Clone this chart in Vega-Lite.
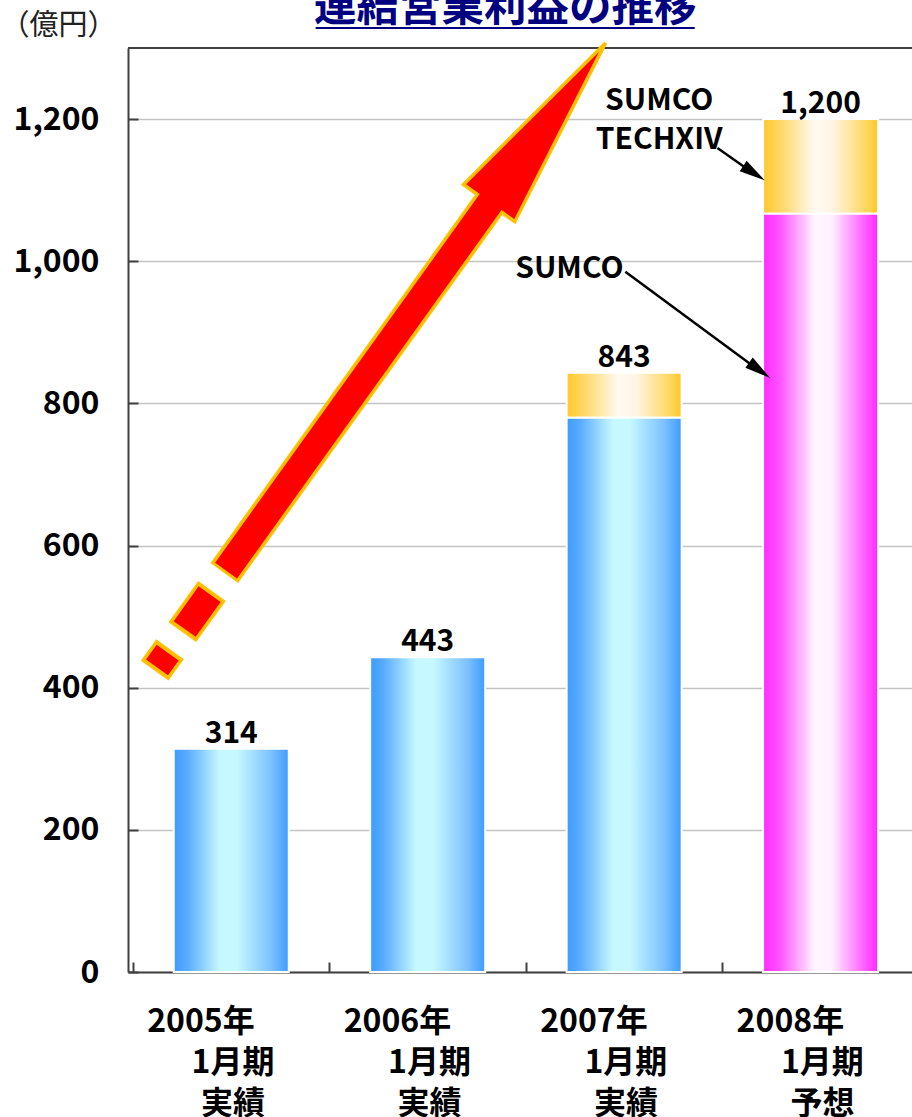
{
  "$schema": "https://vega.github.io/schema/vega-lite/v6.json",
  "autosize": {"type": "none"},
  "padding": {"left": 128, "top": 48, "right": 0, "bottom": 145},
  "width": 784,
  "height": 924,
  "background": "white",
  "config": {"font": "Noto Sans CJK JP", "view": {"stroke": null}},
  "datasets": {
    "profit": [
      {"year": 2005, "company": "SUMCO", "value": 314},
      {"year": 2006, "company": "SUMCO", "value": 443},
      {"year": 2007, "company": "SUMCO", "value": 780},
      {"year": 2007, "company": "SUMCO TECHXIV", "value": 63},
      {"year": 2008, "company": "SUMCO", "value": 1067},
      {"year": 2008, "company": "SUMCO TECHXIV", "value": 133}
    ],
    "arrowOutline": [
      {"x0": 2004.9648, "y0": 561.37, "x1": 2006.3126, "y1": 1080.24},
      {"x0": 2004.7513, "y0": 478.07, "x1": 2004.9020, "y1": 536.04},
      {"x0": 2004.6101, "y0": 423.91, "x1": 2004.6884, "y1": 454.02}
    ],
    "arrowFill": [
      {"x0": 2004.9739, "y0": 564.74, "x1": 2006.3271, "y1": 1085.87},
      {"x0": 2004.7633, "y0": 482.58, "x1": 2004.8899, "y1": 531.54},
      {"x0": 2004.6221, "y0": 428.55, "x1": 2004.6764, "y1": 449.37}
    ],
    "arrowHead": [{"x": 2006.609, "y": 1194.48}],
    "pointerLines": [
      {"x0": 2007.4749, "y0": 1159.31, "x1": 2007.6156, "y1": 1131.88},
      {"x0": 2007.0060, "y0": 985.27, "x1": 2007.6457, "y1": 854.71}
    ],
    "pointerHead1": [{"x": 2007.6608, "y": 1123.86}],
    "pointerHead2": [{"x": 2007.6894, "y": 846.55}],
    "notes": [
      {"x": 2007.1784, "y": 1212.77, "label": "SUMCO\nTECHXIV"},
      {"x": 2006.7211, "y": 976.41, "label": "SUMCO"}
    ],
    "heading": [{"x": 2006.3945, "x0": 2005.4296, "x1": 2007.3593, "y": 1337.3, "yLine": 1328.1, "label": "連結営業利益の推移"}]
  },
  "layer": [
    {
      "data": {"name": "profit"},
      "transform": [
        {"stack": "value", "groupby": ["year"], "sort": [{"field": "company", "order": "ascending"}], "as": ["v0", "v1"]},
        {"filter": "datum.company == 'SUMCO' && datum.year < 2008"}
      ],
      "mark": {"type": "bar", "orient": "vertical", "width": 115, "stroke": "white", "strokeWidth": 2,
        "fill": {"gradient": "linear", "x1": 0, "y1": 0, "x2": 1, "y2": 0, "stops": [
          {"offset": 0, "color": "#3d9bff"}, {"offset": 0.12, "color": "#5aacff"}, {"offset": 0.4, "color": "#c6f8ff"},
          {"offset": 0.55, "color": "#c6f8ff"}, {"offset": 0.85, "color": "#7cc0ff"}, {"offset": 1, "color": "#3d9bff"}]}},
      "encoding": {
        "x": {"field": "year", "type": "quantitative", "scale": {"domain": [2004.5, 2008.4397], "nice": false, "zero": false},
          "axis": {"values": [2004.5, 2005.5, 2006.5, 2007.5],
            "labelExpr": "[toString(datum.value + 0.5) + '年\u3000\u3000\u200b', '1月期', datum.value > 2007 ? '予想' : '実績']",
            "labelOffset": 99.5, "tickSize": -10, "tickColor": "#404040", "tickWidth": 2, "domainColor": "#404040", "domainWidth": 2,
            "grid": false, "labelFontSize": 32, "labelFontWeight": "bold", "labelColor": "#000000", "labelLineHeight": 41,
            "labelPadding": 44, "labelFlush": false, "labelOverlap": false, "labelBound": false, "title": null,
            "labelAlign": "center", "labelBaseline": "top"}},
        "y": {"field": "v1", "type": "quantitative", "scale": {"domain": [0, 1300], "nice": false},
          "axis": {"values": [0, 200, 400, 600, 800, 1000, 1200], "labelExpr": "format(datum.value, ',')", "tickSize": -10, "tickColor": "#404040", "tickWidth": 2,
            "domainColor": "#404040", "domainWidth": 2, "grid": true, "gridColor": "#c4c4c4", "gridWidth": 1.5,
            "labelFontSize": 32, "labelFontWeight": "bold", "labelColor": "#000000", "labelPadding": 39,
            "title": "（億円）", "titleAngle": 0, "titleX": -128, "titleY": -37, "titleAlign": "left", "titleBaseline": "top",
            "titleFontSize": 29, "titleFontWeight": "normal", "titleColor": "#222222"}},
        "y2": {"field": "v0"}
      }
    },
    {
      "data": {"name": "profit"},
      "transform": [
        {"stack": "value", "groupby": ["year"], "sort": [{"field": "company", "order": "ascending"}], "as": ["v0", "v1"]},
        {"filter": "datum.company == 'SUMCO' && datum.year == 2008"}
      ],
      "mark": {"type": "bar", "orient": "vertical", "width": 115, "stroke": "white", "strokeWidth": 2,
        "fill": {"gradient": "linear", "x1": 0, "y1": 0, "x2": 1, "y2": 0, "stops": [
          {"offset": 0, "color": "#ff2aff"}, {"offset": 0.15, "color": "#ff55ff"}, {"offset": 0.45, "color": "#fff6ff"},
          {"offset": 0.6, "color": "#fff0ff"}, {"offset": 0.9, "color": "#ff55ff"}, {"offset": 1, "color": "#ff2aff"}]}},
      "encoding": {
        "x": {"field": "year", "type": "quantitative"},
        "y": {"field": "v1", "type": "quantitative"},
        "y2": {"field": "v0"}
      }
    },
    {
      "data": {"name": "profit"},
      "transform": [
        {"stack": "value", "groupby": ["year"], "sort": [{"field": "company", "order": "ascending"}], "as": ["v0", "v1"]},
        {"filter": "datum.company == 'SUMCO TECHXIV'"}
      ],
      "mark": {"type": "bar", "orient": "vertical", "width": 115, "stroke": "white", "strokeWidth": 2,
        "fill": {"gradient": "linear", "x1": 0, "y1": 0, "x2": 1, "y2": 0, "stops": [
          {"offset": 0, "color": "#ffc829"}, {"offset": 0.15, "color": "#ffd766"}, {"offset": 0.45, "color": "#fffaf2"},
          {"offset": 0.6, "color": "#fff5e6"}, {"offset": 0.9, "color": "#ffd75e"}, {"offset": 1, "color": "#ffc829"}]}},
      "encoding": {
        "x": {"field": "year", "type": "quantitative"},
        "y": {"field": "v1", "type": "quantitative"},
        "y2": {"field": "v0"}
      }
    },
    {
      "data": {"name": "profit"},
      "transform": [{"aggregate": [{"op": "sum", "field": "value", "as": "total"}], "groupby": ["year"]}],
      "mark": {"type": "text", "fontSize": 30, "fontWeight": "bold", "dy": -6, "baseline": "alphabetic", "color": "#000000"},
      "encoding": {
        "x": {"field": "year", "type": "quantitative"},
        "y": {"field": "total", "type": "quantitative"},
        "text": {"field": "total", "type": "quantitative", "format": ","}
      }
    },
    {
      "data": {"values": [{}]},
      "mark": {"type": "rule", "color": "#404040", "strokeWidth": 2},
      "encoding": {"y": {"datum": 1300, "type": "quantitative"}}
    },
    {
      "data": {"name": "arrowOutline"},
      "mark": {"type": "rule", "color": "#ffc000", "strokeWidth": 34, "strokeCap": "butt"},
      "encoding": {
        "x": {"field": "x0", "type": "quantitative"},
        "y": {"field": "y0", "type": "quantitative"},
        "x2": {"field": "x1"}, "y2": {"field": "y1"}
      }
    },
    {
      "data": {"name": "arrowHead"},
      "mark": {"type": "point", "shape": "M0,-1L0.32,1L-0.32,1Z", "size": 39200, "angle": 36, "filled": true, "fill": "#ff0000", "stroke": "#ffc000", "strokeWidth": 3.5, "opacity": 1, "strokeJoin": "miter"},
      "encoding": {
        "x": {"field": "x", "type": "quantitative"},
        "y": {"field": "y", "type": "quantitative"}
      }
    },
    {
      "data": {"name": "arrowFill"},
      "mark": {"type": "rule", "color": "#ff0000", "strokeWidth": 27, "strokeCap": "butt"},
      "encoding": {
        "x": {"field": "x0", "type": "quantitative"},
        "y": {"field": "y0", "type": "quantitative"},
        "x2": {"field": "x1"}, "y2": {"field": "y1"}
      }
    },
    {
      "data": {"name": "pointerLines"},
      "mark": {"type": "rule", "color": "#000000", "strokeWidth": 2.5},
      "encoding": {
        "x": {"field": "x0", "type": "quantitative"},
        "y": {"field": "y0", "type": "quantitative"},
        "x2": {"field": "x1"}, "y2": {"field": "y1"}
      }
    },
    {
      "data": {"name": "pointerHead1"},
      "mark": {"type": "point", "shape": "M0,-1L0.48,1L-0.48,1Z", "size": 676, "angle": 123.7, "filled": true, "fill": "#000000", "opacity": 1},
      "encoding": {
        "x": {"field": "x", "type": "quantitative"},
        "y": {"field": "y", "type": "quantitative"}
      }
    },
    {
      "data": {"name": "pointerHead2"},
      "mark": {"type": "point", "shape": "M0,-1L0.48,1L-0.48,1Z", "size": 676, "angle": 125.9, "filled": true, "fill": "#000000", "opacity": 1},
      "encoding": {
        "x": {"field": "x", "type": "quantitative"},
        "y": {"field": "y", "type": "quantitative"}
      }
    },
    {
      "data": {"name": "notes"},
      "mark": {"type": "text", "fontSize": 30, "fontWeight": "bold", "align": "center", "baseline": "alphabetic", "lineBreak": "\n", "lineHeight": 39, "color": "#000000"},
      "encoding": {
        "x": {"field": "x", "type": "quantitative"},
        "y": {"field": "y", "type": "quantitative"},
        "text": {"field": "label"}
      }
    },
    {
      "data": {"name": "heading"},
      "mark": {"type": "text", "fontSize": 42.5, "fontWeight": "bold", "align": "center", "baseline": "alphabetic", "color": "#000080"},
      "encoding": {
        "x": {"field": "x", "type": "quantitative"},
        "y": {"field": "y", "type": "quantitative"},
        "text": {"field": "label"}
      }
    },
    {
      "data": {"name": "heading"},
      "mark": {"type": "rule", "color": "#000080", "strokeWidth": 2},
      "encoding": {
        "x": {"field": "x0", "type": "quantitative"},
        "x2": {"field": "x1"},
        "y": {"field": "yLine", "type": "quantitative"}
      }
    }
  ]
}
